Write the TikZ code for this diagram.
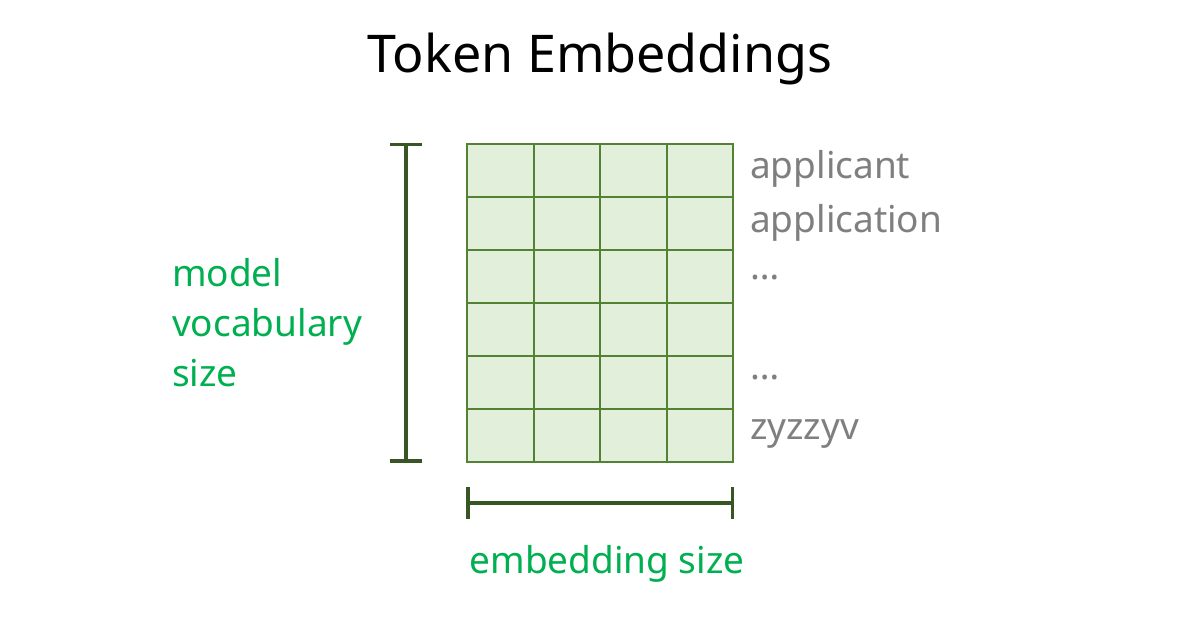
\documentclass[tikz,border=0pt]{standalone}
\usepackage{fontspec}
\setmainfont{Noto Sans}
\usetikzlibrary{positioning,arrows.meta}

\definecolor{cellfill}{HTML}{E2EFDA}
\definecolor{cellline}{HTML}{548235}
\definecolor{dimline}{HTML}{375623}
\definecolor{dimtext}{HTML}{00B050}
\definecolor{wordgray}{HTML}{7F7F7F}

\begin{document}
\begin{tikzpicture}[
    x=1pt, y=1pt,
    cell/.style={
      rectangle, draw=cellline, fill=cellfill, line width=2pt,
      minimum width=66.5pt, minimum height=53pt, inner sep=0pt
    },
    word/.style={anchor=base west, inner sep=0pt, text=wordgray, font=\fontsize{37}{40}\selectfont},
    dimbar/.style={draw=dimline, line width=3.5pt, {Bar[width=32pt]}-{Bar[width=32pt]}},
    dimlabel/.style={inner sep=0pt, text=dimtext, font=\fontsize{37}{50}\selectfont}
  ]
  \useasboundingbox (0,0) rectangle (1194,632);
  \node[anchor=base, inner sep=0pt, font=\fontsize{52}{58}\selectfont] (title) at (600,559) {Token Embeddings};
  % the embedding matrix
  \foreach \r in {1,...,6}
    \foreach \c in {1,...,4}
      \node[cell] (cell-\r-\c) at ({467+66.5*(\c-0.5)}, {488-53*(\r-0.5)}) {};
  \node[word] (w1) at ([xshift=16pt, yshift=-8.5pt]cell-1-4.east) {applicant};
  \node[word] (w2) at ([xshift=16pt, yshift=-9.5pt]cell-2-4.east) {application};
  \node[word] (w3) at ([xshift=16pt, yshift=-3.5pt]cell-3-4.east) {\dots};
  \node[word] (w5) at ([xshift=16pt, yshift=2.5pt]cell-5-4.east) {\dots};
  \node[word] (w6) at ([xshift=16pt, yshift=-4.5pt]cell-6-4.east) {zyzzyv};
  % dimensions
  \coordinate[left=60pt of cell-1-1.north west] (vtop);
  \coordinate[left=60pt of cell-6-1.south west] (vbot);
  \coordinate[below=40pt of cell-6-1.south west] (hleft);
  \coordinate[below=40pt of cell-6-4.south east] (hright);
  \draw[dimbar] (vtop) -- (vbot);
  \draw[dimbar] (hleft) -- (hright);
  \node[dimlabel, align=left, anchor=west] (vocab) at (172,309) {model\\vocabulary\\size};
  \node[dimlabel, anchor=base] (emb) at (607,59) {embedding size};
\end{tikzpicture}
\end{document}
